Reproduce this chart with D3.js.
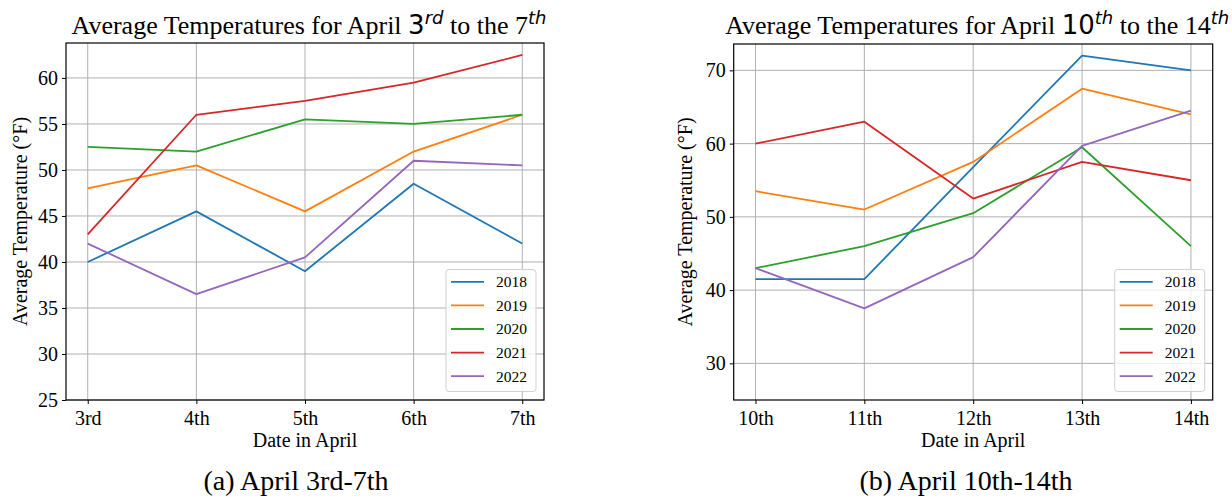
<!DOCTYPE html>
<html>
<head>
<meta charset="utf-8">
<script src="https://cdn.jsdelivr.net/npm/d3@7"></script>
<style>
  body { margin: 0; background: #fff; }
  svg text { font-family: "Liberation Serif", "Times New Roman", serif; fill: #000; }
</style>
</head>
<body>
<svg id="chart" width="1232" height="499"></svg>
<script>
// Data
const years = ['2018', '2019', '2020', '2021', '2022'];
const colors = ['#1f77b4', '#ff7f0e', '#2ca02c', '#d62728', '#9467bd'];

const datesA = ['3rd', '4th', '5th', '6th', '7th'];
const tempsA2018 = [40, 45.5, 39, 48.5, 42];
const tempsA2019 = [48, 50.5, 45.5, 52, 56];
const tempsA2020 = [52.5, 52, 55.5, 55, 56];
const tempsA2021 = [43, 56, 57.5, 59.5, 62.5];
const tempsA2022 = [42, 36.5, 40.5, 51, 50.5];
const yTicksA = [25, 30, 35, 40, 45, 50, 55, 60];

const datesB = ['10th', '11th', '12th', '13th', '14th'];
const tempsB2018 = [41.5, 41.5, 56.8, 72, 70];
const tempsB2019 = [53.5, 51, 57.5, 67.5, 64];
const tempsB2020 = [43, 46, 50.5, 59.5, 46];
const tempsB2021 = [60, 63, 52.5, 57.5, 55];
const tempsB2022 = [43, 37.5, 44.5, 59.7, 64.5];
const yTicksB = [30, 40, 50, 60, 70];

const svg = d3.select('#chart');

function drawPanel(opts) {
    const { left, right, top, bottom, dates, series, yDomain, yTicks, title, caption, captionX, yLabelX } = opts;

    const x = d3.scaleLinear().domain([-0.2, dates.length - 1 + 0.2]).range([left, right]);
    const y = d3.scaleLinear().domain(yDomain).range([bottom, top]);

    const g = svg.append('g');

    // grid
    g.append('g')
        .selectAll('line.vg')
        .data(dates)
        .enter()
        .append('line')
        .attr('x1', (d, i) => x(i)).attr('x2', (d, i) => x(i))
        .attr('y1', top).attr('y2', bottom)
        .style('stroke', '#b0b0b0').style('stroke-width', 1);
    g.append('g')
        .selectAll('line.hg')
        .data(yTicks)
        .enter()
        .append('line')
        .attr('x1', left).attr('x2', right)
        .attr('y1', d => y(d)).attr('y2', d => y(d))
        .style('stroke', '#b0b0b0').style('stroke-width', 1);

    // series
    const line = d3.line().x((d, i) => x(i)).y(d => y(d));
    g.append('g')
        .selectAll('path')
        .data(series)
        .enter()
        .append('path')
        .attr('d', d => line(d))
        .style('fill', 'none')
        .style('stroke', (d, i) => colors[i])
        .style('stroke-width', 1.8)
        .style('stroke-linejoin', 'round');

    // axes
    const xAxis = d3.axisBottom(x)
        .tickValues(d3.range(dates.length))
        .tickFormat(i => dates[i])
        .tickSize(4).tickPadding(5);
    const yAxis = d3.axisLeft(y)
        .tickValues(yTicks)
        .tickSize(4).tickPadding(4);

    const gx = g.append('g').attr('transform', `translate(0,${bottom})`).call(xAxis);
    const gy = g.append('g').attr('transform', `translate(${left},0)`).call(yAxis);
    [gx, gy].forEach(a => {
        a.select('.domain').remove();
        a.selectAll('text').style('font-size', '20px').style('font-family', '"Liberation Serif", serif');
        a.selectAll('line').style('stroke', '#000').style('stroke-width', 1);
    });
    gx.selectAll('text').attr('dy', '0.78em');

    // frame
    g.append('rect')
        .attr('x', left).attr('y', top)
        .attr('width', right - left).attr('height', bottom - top)
        .style('fill', 'none').style('stroke', '#000').style('stroke-width', 1.2);

    // axis labels
    g.append('text')
        .attr('x', (left + right) / 2).attr('y', 447)
        .style('text-anchor', 'middle').style('font-size', '20px')
        .text('Date in April');
    g.append('text')
        .attr('transform', `translate(${yLabelX},${(top + bottom) / 2}) rotate(-90)`)
        .attr('dy', '0.35em')
        .style('text-anchor', 'middle').style('font-size', '20px')
        .text('Average Temperature (°F)');

    // title with superscripts
    const t = g.append('text')
        .attr('x', (left + right) / 2 + 4).attr('y', 34)
        .style('text-anchor', 'middle').style('font-size', '26px');
    t.append('tspan').text('Average Temperatures for April ');
    t.append('tspan').style('font-family', '"DejaVu Sans", sans-serif').text(title[0]);
    t.append('tspan').attr('dy', -10).style('font-family', '"DejaVu Sans", sans-serif')
        .style('font-style', 'italic').style('font-size', '18px').text(title[1]);
    t.append('tspan').attr('dy', 10).text(' to the ' + title[2]);
    t.append('tspan').attr('dy', -10).style('font-family', '"DejaVu Sans", sans-serif')
        .style('font-style', 'italic').style('font-size', '18px').text(title[3]);

    // legend
    const lx = right - 98, ly = 269.5;
    const lg = g.append('g').attr('transform', `translate(${lx},${ly})`);
    lg.append('rect')
        .attr('width', 90).attr('height', 122).attr('rx', 3)
        .style('fill', 'rgba(255,255,255,0.8)').style('stroke', '#d0d0d0').style('stroke-width', 1);
    const rows = lg.selectAll('g.row')
        .data(years)
        .enter()
        .append('g')
        .attr('transform', (d, i) => `translate(0,${12.3 + i * 23.6})`);
    rows.append('line')
        .attr('x1', 5).attr('x2', 38)
        .style('stroke', (d, i) => colors[i]).style('stroke-width', 1.8);
    rows.append('text')
        .attr('x', 50).attr('dy', '0.35em')
        .style('font-size', '15.5px')
        .text(d => d);

    // caption
    svg.append('text')
        .attr('x', captionX).attr('y', 490)
        .style('text-anchor', 'middle').style('font-size', '28px')
        .text(caption);
}

drawPanel({
    left: 66, right: 544, top: 43, bottom: 400,
    dates: datesA,
    series: [tempsA2018, tempsA2019, tempsA2020, tempsA2021, tempsA2022],
    yDomain: [25, 63.8], yTicks: yTicksA,
    title: ['3', 'rd', '7', 'th'],
    caption: '(a) April 3rd-7th', captionX: 296, yLabelX: 20
});

drawPanel({
    left: 733.7, right: 1212.7, top: 44, bottom: 400,
    dates: datesB,
    series: [tempsB2018, tempsB2019, tempsB2020, tempsB2021, tempsB2022],
    yDomain: [25, 73.6], yTicks: yTicksB,
    title: ['10', 'th', '14', 'th'],
    caption: '(b) April 10th-14th', captionX: 966, yLabelX: 685
});
</script>
</body>
</html>
